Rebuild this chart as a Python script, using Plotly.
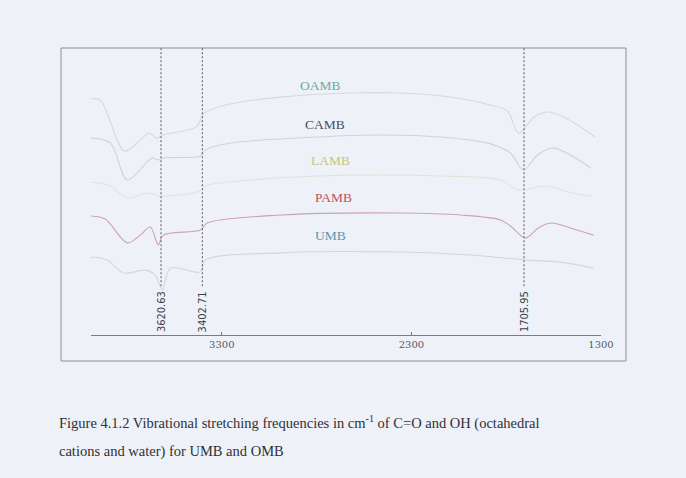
import plotly.graph_objects as go

# FTIR spectra (wavenumber in cm-1, offset transmittance in arbitrary units)
oamb_wn = [3994, 3941, 3814, 3730, 3683, 3646, 3609, 3435, 3392, 3255, 2991, 2622, 2358, 2094, 1883, 1793, 1735, 1646, 1572, 1487, 1329]
oamb_t = [82.2, 81.9, 64.1, 67.9, 70.4, 68.6, 69.7, 72.5, 77.4, 80.5, 82.9, 84.3, 84.3, 82.9, 80.1, 78.0, 70.4, 76.3, 77.7, 75.6, 69.0]

camb_wn = [3994, 3888, 3799, 3693, 3667, 3635, 3609, 3413, 3387, 3255, 2991, 2464, 2147, 1883, 1778, 1709, 1635, 1556, 1461, 1355]
camb_t = [68.6, 66.9, 54.0, 60.3, 61.7, 61.0, 61.7, 62.4, 64.5, 66.9, 68.3, 69.7, 69.0, 66.6, 63.4, 57.5, 62.7, 65.2, 62.7, 58.2]

lamb_wn = [3994, 3888, 3799, 3693, 3625, 3413, 3387, 3150, 2622, 2147, 1830, 1735, 1593, 1450, 1355]
lamb_t = [53.3, 51.9, 47.7, 49.5, 48.4, 50.2, 51.9, 54.0, 55.7, 55.4, 54.0, 50.5, 51.9, 49.5, 48.4]

pamb_wn = [3994, 3915, 3799, 3730, 3677, 3635, 3609, 3413, 3377, 2991, 2358, 2041, 1830, 1778, 1698, 1630, 1567, 1461, 1340]
pamb_t = [41.5, 40.4, 32.1, 34.8, 37.6, 31.4, 34.8, 36.6, 39.0, 41.8, 42.5, 41.8, 40.1, 38.0, 33.8, 37.3, 39.0, 37.3, 34.8]

umb_wn = [3994, 3904, 3820, 3704, 3651, 3614, 3572, 3413, 3387, 2991, 2358, 1989, 1688, 1514, 1340]
umb_t = [27.2, 26.1, 21.6, 22.6, 20.9, 15.7, 23.3, 22.0, 26.1, 28.6, 28.9, 27.9, 26.1, 25.4, 23.3]

series_names = ["OAMB", "CAMB", "LAMB", "PAMB", "UMB"]
series_wn = [oamb_wn, camb_wn, lamb_wn, pamb_wn, umb_wn]
series_t = [oamb_t, camb_t, lamb_t, pamb_t, umb_t]
line_colors = ["#d7d8de", "#d1d2d8", "#e3e3dc", "#cfa3ab", "#d3d5db"]
label_colors = ["#6fa9a1", "#4b4b66", "#c4c77a", "#c2505e", "#5b96ae"]
label_wn = [2780, 2754, 2727, 2712, 2727]
label_t = [86.8, 73.5, 60.8, 47.9, 34.8]

# marked band positions
peaks = [3620.63, 3402.71, 1705.95]
peak_labels = ["3620.63", "3402.71", "1705.95"]

tick_vals = [3300, 2300, 1300]
tick_text = ["3300", "2300", "1300"]

W, H = 686, 478
L, R, T, B = 91, 85, 48, 143
PW, PH = W - L - R, H - T - B


def px_x(p):
    return (p - L) / PW


def px_y(p):
    return (H - B - p) / PH


fig = go.Figure()

for name, wn, t, c in zip(series_names, series_wn, series_t, line_colors):
    fig.add_trace(go.Scatter(
        x=wn, y=t, mode="lines", name=name,
        line=dict(color=c, width=1.1, shape="spline", smoothing=0.9),
        hoverinfo="skip", showlegend=False,
    ))

shapes = [
    dict(type="rect", xref="paper", yref="paper",
         x0=px_x(61), x1=px_x(626), y0=px_y(361), y1=px_y(48),
         line=dict(color="#8c8e92", width=1), fillcolor="rgba(0,0,0,0)", layer="below"),
]
for pk in peaks:
    shapes.append(dict(type="line", xref="x", yref="y", x0=pk, x1=pk, y0=17, y1=100,
                       line=dict(color="#55575c", width=1, dash="2px,2px")))

annotations = []
for name, xw, yt, c in zip(series_names, label_wn, label_t, label_colors):
    annotations.append(dict(x=xw, y=yt, xref="x", yref="y", text=name, showarrow=False,
                            font=dict(family="Liberation Serif, Times New Roman, serif", size=13.5, color=c)))
for pk, lab in zip(peaks, peak_labels):
    annotations.append(dict(x=pk, y=8.0, xref="x", yref="y", text=lab, showarrow=False,
                            textangle=-90,
                            font=dict(family="Liberation Sans Narrow, DejaVu Sans Condensed, Liberation Sans, sans-serif",
                                      size=11, color="#3f4146")))

caption_font = dict(family="Liberation Serif, Times New Roman, serif", size=14.5, color="#2e3035")
annotations.append(dict(xref="paper", yref="paper", x=px_x(57), y=px_y(422), xanchor="left", yanchor="middle",
                        text="Figure 4.1.2 Vibrational stretching frequencies in cm<sup>-1</sup> of C=O and OH (octahedral",
                        showarrow=False, font=caption_font))
annotations.append(dict(xref="paper", yref="paper", x=px_x(57), y=px_y(451), xanchor="left", yanchor="middle",
                        text="cations and water) for UMB and OMB",
                        showarrow=False, font=caption_font))

fig.update_layout(
    width=W, height=H,
    margin=dict(l=L, r=R, t=T, b=B),
    paper_bgcolor="#eef2f8", plot_bgcolor="rgba(0,0,0,0)",
    shapes=shapes, annotations=annotations,
    xaxis=dict(range=[3990, 1300], tickvals=tick_vals, ticktext=tick_text,
               showline=True, linecolor="#7a7c80", linewidth=1,
               ticks="inside", ticklen=3, tickcolor="#7a7c80",
               tickfont=dict(family="DejaVu Serif, serif", size=10, color="#55575c"),
               showgrid=False, zeroline=False, fixedrange=True),
    yaxis=dict(range=[0, 100], visible=False, fixedrange=True),
)

fig.write_html("out.html")
